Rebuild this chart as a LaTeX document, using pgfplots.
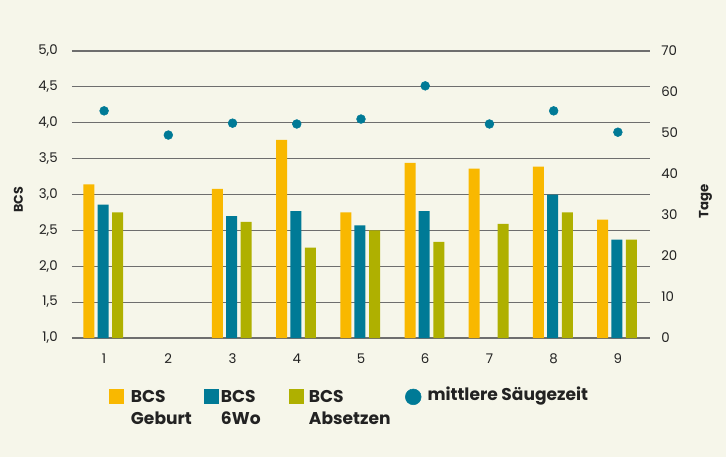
\documentclass[border=0pt]{standalone}
\usepackage{fontspec}
\setmainfont{Poppins}
\usepackage{pgfplots}
\pgfplotsset{compat=1.18}
\definecolor{bg}{HTML}{F6F6EA}
\definecolor{cY}{HTML}{F9B800}
\definecolor{cT}{HTML}{007A96}
\definecolor{cO}{HTML}{AFB000}
\definecolor{gridc}{HTML}{6E6E6E}
\definecolor{txt}{HTML}{222222}
\begin{document}
\begin{tikzpicture}
\path[use as bounding box, fill=bg] (-54pt,-89.25pt) rectangle (490.5pt,253.5pt);
\begin{axis}[
 at={(0,0)}, anchor=south west,
 scale only axis, width=433.5pt, height=215.25pt,
 xmin=0.5, xmax=9.5, ymin=1, ymax=5,
 xtick={1,...,9}, ytick={1,1.5,...,5},
 ymajorgrids, grid style={gridc, line width=0.9pt},
 axis line style={draw=none},
 major tick length=0pt, tick style={draw=none},
 /pgf/number format/assume math mode=true,
 ticklabel style={font=\fontsize{10}{12}\selectfont, text=txt},
 yticklabel style={inner sep=0pt, xshift=-10.5pt, /pgf/number format/.cd, fixed, fixed zerofill, precision=1, use comma},
 xticklabel style={inner sep=0pt, yshift=-11.5pt},
 ylabel={BCS},
 ylabel style={at={(axis description cs:-0.0926,0.481)}, anchor=center, font=\fontsize{9.5}{11}\selectfont\bfseries, text=txt},
 ybar, bar width=8.25pt,
 legend columns=4,
 legend style={at={(axis description cs:0.064,-0.168)}, anchor=north west,
   draw=none, fill=none, inner sep=0pt, outer sep=0pt,
   font=\fontsize{12.8}{17}\selectfont\bfseries, text=txt,
   nodes={inner sep=0pt},
   /tikz/every odd column/.style={column sep=0pt},
   /tikz/every even column/.style={column sep=0pt}},
]
\addplot[fill=cY, draw=none, bar shift=-11.4pt,
  legend image code/.code={\fill[cY] (0pt,-6.4pt) rectangle (11pt,4.6pt); \path (16.5pt,0pt);}]
  coordinates {(1,3.14) (3,3.08) (4,3.76) (5,2.75) (6,3.44) (7,3.36) (8,3.39) (9,2.65)};
\addlegendentry{\makebox[54.75pt][l]{\begin{tabular}[t]{@{}l@{}}BCS\\Geburt\end{tabular}}}
\addplot[fill=cT, draw=none, bar shift=-0.75pt,
  legend image code/.code={\fill[cT] (0pt,-6.4pt) rectangle (11pt,4.6pt); \path (12.75pt,0pt);}]
  coordinates {(1,2.86) (3,2.70) (4,2.77) (5,2.57) (6,2.77) (8,3.00) (9,2.37)};
\addlegendentry{\makebox[51pt][l]{\begin{tabular}[t]{@{}l@{}}BCS\\6Wo\end{tabular}}}
\addplot[fill=cO, draw=none, bar shift=10.2pt,
  legend image code/.code={\fill[cO] (0pt,-6.4pt) rectangle (11pt,4.6pt); \path (15pt,0pt);}]
  coordinates {(1,2.75) (3,2.62) (4,2.26) (5,2.50) (6,2.34) (7,2.59) (8,2.75) (9,2.37)};
\addlegendentry{\makebox[72pt][l]{\begin{tabular}[t]{@{}l@{}}BCS\\Absetzen\end{tabular}}}
\addlegendimage{legend image code/.code={\fill[cT] (6pt,-1.3pt) circle (5.9pt); \path (0pt,0pt) (16.5pt,0pt);}}
\addlegendentry{mittlere Säugezeit}
\end{axis}
\begin{axis}[
 at={(0,0)}, anchor=south west,
 scale only axis, width=433.5pt, height=215.25pt,
 xmin=0.5, xmax=9.5, ymin=0, ymax=70,
 axis y line*=right, axis x line=none,
 axis line style={draw=none}, major tick length=0pt, tick style={draw=none},
 ytick={0,10,...,70},
 /pgf/number format/assume math mode=true,
 yticklabel style={inner sep=0pt, xshift=8.25pt, font=\fontsize{10}{12}\selectfont, text=txt},
 ylabel={Tage},
 ylabel style={at={(axis description cs:1.096,0.477)}, anchor=center, font=\fontsize{10}{12}\selectfont\bfseries, text=txt},
]
\addplot[only marks, mark=*, mark size=3.3pt, color=cT, mark options={fill=cT, draw=none}]
  coordinates {(1,55.4) (2,49.5) (3,52.4) (4,52.2) (5,53.4) (6,61.5) (7,52.2) (8,55.4) (9,50.2)};
\end{axis}
\end{tikzpicture}
\end{document}
